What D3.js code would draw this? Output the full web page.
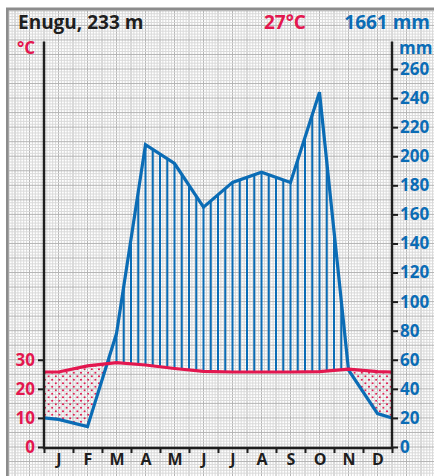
<!DOCTYPE html>
<html>
<head>
<meta charset="utf-8">
<script src="https://cdn.jsdelivr.net/npm/d3@7"></script>
<style>
  html, body { margin: 0; padding: 0; background: #fff; }
  svg { display: block; }
  text { font-family: "Open Sans", "Noto Sans", sans-serif; font-weight: bold; }
</style>
</head>
<body>
<svg id="chart" width="434" height="476"></svg>
<script>
var months = ['J', 'F', 'M', 'A', 'M', 'J', 'J', 'A', 'S', 'O', 'N', 'D'];
var temperature = [25.8, 27.9, 29.0, 28.2, 27.0, 26.0, 25.8, 25.8, 25.8, 25.9, 26.8, 25.9];
var precipitation = [19, 14, 78, 208, 195, 165, 182, 189, 182, 244, 53, 23];
// where the two curves meet the frame at the left and right edge
var edgeTemperature = 25.8;
var edgePrecipitation = 20;
var tempTicks = [0, 10, 20, 30];
var precipTicks = [0, 20, 40, 60, 80, 100, 120, 140, 160, 180, 200, 220, 240, 260];
var station = 'Enugu, 233 m';
var meanTemp = '27°C';
var totalPrecip = '1661 mm';

var RED = '#e3174f', BLUE = '#0b6cb5', INK = '#1e1e1e';

var svg = d3.select('#chart');
var W = 434, H = 476;

var x = d3.scaleLinear().domain([0, 12]).range([44, 392]);
var y = d3.scaleLinear().domain([0, 260]).range([447, 69]);
var yTemp = d3.scaleLinear().domain([0, 130]).range([447, 69]);
var axisTop = y(279);

function series(values, edge, factor) {
  var pts = [{ m: 0, v: edge * factor }];
  values.forEach(function (v, i) { pts.push({ m: i + 0.5, v: v * factor }); });
  pts.push({ m: 12, v: edge * factor });
  return pts;
}
var tempPts = series(temperature, edgeTemperature, 2);
var precPts = series(precipitation, edgePrecipitation, 1);

// frame + millimetre paper
svg.append('rect').attr('x', 7.5).attr('y', 9).attr('width', W).attr('height', H)
  .attr('fill', '#fff').attr('stroke', '#8c8c8c').attr('stroke-width', 3);

var grid = svg.append('g').attr('class', 'grid');
for (var k = -70; k <= 155; k++) {
  var gx = x(k / 10);
  if (gx < 9 || gx > W) continue;
  grid.append('line').attr('x1', gx).attr('x2', gx).attr('y1', 10.5).attr('y2', H)
    .attr('stroke', k % 5 === 0 ? '#b4b4b4' : '#d9d9d9').attr('stroke-width', 1);
}
for (var j = -20; j <= 300; j += 2) {
  var gy = y(j);
  if (gy < 10.5 || gy > H) continue;
  grid.append('line').attr('x1', 9).attr('x2', W).attr('y1', gy).attr('y2', gy)
    .attr('stroke', j % 10 === 0 ? '#b4b4b4' : '#d9d9d9').attr('stroke-width', 1);
}

// clip regions made from the two curves
var defs = svg.append('defs');
function clipArea(id, pts, toward) {
  var area = d3.area().x(function (d) { return x(d.m); })
    .y0(function () { return y(toward); })
    .y1(function (d) { return y(d.v); });
  defs.append('clipPath').attr('id', id).append('path').attr('d', area(pts));
}
clipArea('precBelow', precPts, -50);
clipArea('precAbove', precPts, 400);
clipArea('tempBelow', tempPts, -50);
clipArea('tempAbove', tempPts, 400);

var dots = defs.append('pattern').attr('id', 'dots').attr('patternUnits', 'userSpaceOnUse')
  .attr('width', 7.2).attr('height', 7);
dots.append('circle').attr('cx', 1.8).attr('cy', 1.7).attr('r', 1).attr('fill', RED);
dots.append('circle').attr('cx', 5.4).attr('cy', 5.2).attr('r', 1).attr('fill', RED);

// arid season: dotted
svg.append('g').attr('clip-path', 'url(#tempBelow)')
  .append('g').attr('clip-path', 'url(#precAbove)')
  .append('rect').attr('x', x(0)).attr('y', y(100)).attr('width', x(12) - x(0)).attr('height', y(0) - y(100))
  .attr('fill', 'url(#dots)');

// humid season: vertical hatching
svg.append('g').attr('clip-path', 'url(#precBelow)')
  .append('g').attr('clip-path', 'url(#tempAbove)')
  .selectAll('line').data(d3.range(0, 49)).enter().append('line')
  .attr('x1', function (n) { return x(n / 4); }).attr('x2', function (n) { return x(n / 4); })
  .attr('y1', y(0)).attr('y2', y(280))
  .attr('stroke', BLUE).attr('stroke-width', 2);

var line = d3.line().x(function (d) { return x(d.m); }).y(function (d) { return y(d.v); });
svg.append('path').attr('d', line(precPts)).attr('fill', 'none')
  .attr('stroke', BLUE).attr('stroke-width', 3.2).attr('stroke-linejoin', 'miter');
svg.append('path').attr('d', line(tempPts)).attr('fill', 'none')
  .attr('stroke', RED).attr('stroke-width', 3.2);

// axes
var left = svg.append('g').attr('transform', 'translate(' + x(0) + ',0)')
  .call(d3.axisLeft(yTemp).tickValues(tempTicks).tickSize(6).tickPadding(3).tickSizeOuter(0));
var right = svg.append('g').attr('transform', 'translate(' + x(12) + ',0)')
  .call(d3.axisRight(y).tickValues(precipTicks).tickSize(6).tickPadding(2).tickSizeOuter(0));
var bottomTicks = svg.append('g').attr('transform', 'translate(0,' + y(0) + ')')
  .call(d3.axisBottom(x).tickValues(d3.range(0, 13)).tickFormat('').tickSize(6).tickSizeOuter(0));
var bottomLabels = svg.append('g').attr('transform', 'translate(0,' + y(0) + ')')
  .call(d3.axisBottom(x).tickValues(d3.range(0.5, 12, 1)).tickFormat(function (d, i) { return months[i]; })
    .tickSize(0).tickPadding(7));

[left, right, bottomTicks, bottomLabels].forEach(function (g) { g.select('.domain').remove(); });
svg.selectAll('.tick line').attr('stroke', INK).attr('stroke-width', 2);
left.selectAll('text').attr('fill', RED).style('font-size', '17px');
right.selectAll('text').attr('fill', BLUE).style('font-size', '17px');
bottomLabels.selectAll('text').attr('fill', INK).style('font-size', '16px');

svg.append('path')
  .attr('d', 'M' + x(0) + ',' + axisTop + 'V' + (y(0) + 1) + 'H' + x(12) + 'V' + axisTop)
  .attr('fill', 'none').attr('stroke', INK).attr('stroke-width', 2.5);

// header and unit labels
svg.append('text').attr('x', 18).attr('y', 29).attr('fill', INK).style('font-size', '19px').text(station);
svg.append('text').attr('x', 285).attr('y', 29).attr('text-anchor', 'middle').attr('fill', RED)
  .style('font-size', '19px').text(meanTemp);
svg.append('text').attr('x', 430).attr('y', 29).attr('text-anchor', 'end').attr('fill', BLUE)
  .style('font-size', '19px').text(totalPrecip);
svg.append('text').attr('x', 17).attr('y', 54).attr('fill', RED).style('font-size', '17px').text('°C');
svg.append('text').attr('x', 399).attr('y', 54).attr('fill', BLUE).style('font-size', '17px').text('mm');
</script>
</body>
</html>
